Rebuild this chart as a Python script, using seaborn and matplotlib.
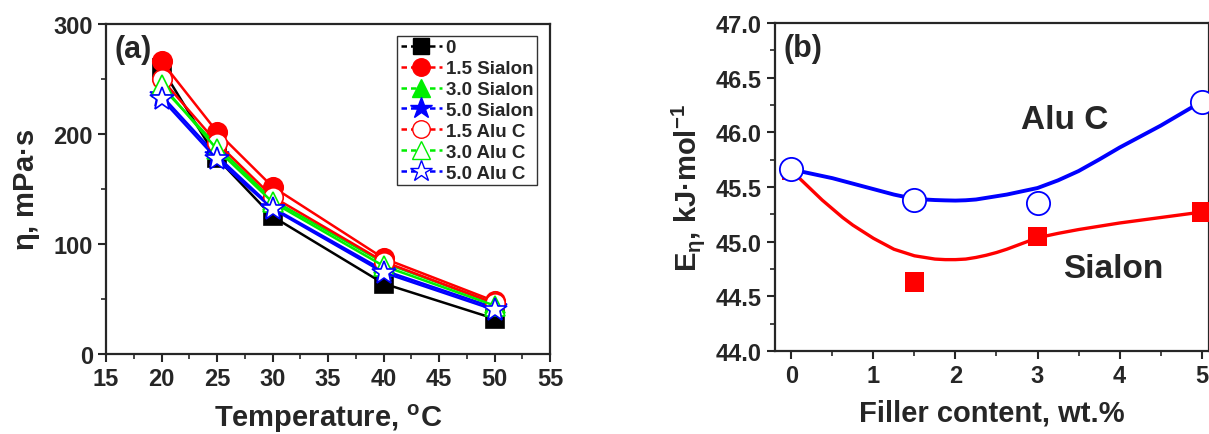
import numpy as np
import pandas as pd
import matplotlib
matplotlib.use("Agg")
import matplotlib.pyplot as plt
import seaborn as sns
from matplotlib.lines import Line2D
from matplotlib.ticker import MultipleLocator, FormatStrFormatter

# ---------- data: panel (a) viscosity vs temperature ----------
temps = [20, 25, 30, 40, 50]
visc_0 = [260, 178, 125, 64, 32]
visc_sialon_15 = [266, 202, 152, 87, 48]
visc_sialon_30 = [243, 189, 140, 83, 46]
visc_sialon_50 = [235, 180, 133, 76, 42]
visc_aluc_15 = [250, 192, 143, 84, 46]
visc_aluc_30 = [245, 186, 138, 80, 44]
visc_aluc_50 = [232, 177, 132, 74, 40]

# ---------- data: panel (b) activation energy vs filler ----------
filler = [0, 1.5, 3, 5]
ea_sialon = [45.65, 44.63, 45.05, 45.27]
ea_aluc = [45.66, 45.38, 45.35, 46.28]
# trend lines
fit_x = [0, 0.125, 0.25, 0.375, 0.5, 0.625, 0.75, 0.875, 1.0, 1.125, 1.25, 1.375, 1.5,
         1.625, 1.75, 1.875, 2.0, 2.125, 2.25, 2.375, 2.5, 2.625, 2.75, 2.875, 3.0,
         3.25, 3.5, 3.75, 4.0, 4.25, 4.5, 4.75, 5.0]
fit_sialon = [45.65, 45.56, 45.47, 45.38, 45.30, 45.22, 45.15, 45.09, 45.03, 44.98, 44.93,
              44.90, 44.87, 44.855, 44.84, 44.835, 44.835, 44.84, 44.855, 44.875, 44.90,
              44.93, 44.965, 45.00, 45.035, 45.075, 45.11, 45.14, 45.17, 45.195, 45.22,
              45.245, 45.27]
fit_aluc = [45.66, 45.64, 45.62, 45.60, 45.58, 45.555, 45.53, 45.505, 45.48, 45.455, 45.43,
            45.41, 45.39, 45.385, 45.38, 45.377, 45.375, 45.378, 45.385, 45.40, 45.415,
            45.43, 45.45, 45.47, 45.49, 45.56, 45.645, 45.75, 45.86, 45.96, 46.06,
            46.17, 46.28]

sns.set_style("ticks")
plt.rcParams["font.family"] = ["Liberation Sans", "DejaVu Sans"]
plt.rcParams["font.weight"] = "bold"
plt.rcParams["mathtext.fontset"] = "custom"
plt.rcParams["mathtext.rm"] = "Liberation Sans"
plt.rcParams["mathtext.it"] = "Liberation Sans"
plt.rcParams["mathtext.bf"] = "Liberation Sans:bold"
plt.rcParams["axes.linewidth"] = 1.6

fig = plt.figure(figsize=(12.09, 4.35), dpi=100)
ax1 = fig.add_axes([0.0877, 0.184, 0.3673, 0.7585])
ax2 = fig.add_axes([0.641, 0.191, 0.359, 0.754])

# ---------- panel (a) ----------
series_a = [
    ("0", visc_0, "black", "s", "black"),
    ("1.5 Sialon", visc_sialon_15, "#ff0000", "o", "#ff0000"),
    ("3.0 Sialon", visc_sialon_30, "#00ee00", "^", "#00ee00"),
    ("5.0 Sialon", visc_sialon_50, "#0000ff", "*", "#0000ff"),
    ("1.5 Alu C", visc_aluc_15, "#ff0000", "o", "white"),
    ("3.0 Alu C", visc_aluc_30, "#00ee00", "^", "white"),
    ("5.0 Alu C", visc_aluc_50, "#0000ff", "*", "white"),
]
sizes = {"s": 13, "o": 14, "^": 14, "*": 18}
handles = []
for label, vals, col, mk, face in series_a:
    df = pd.DataFrame({"T": temps, "v": vals})
    sns.lineplot(data=df, x="T", y="v", ax=ax1, color=col, lw=1.8,
                 marker=mk, markersize=sizes[mk], markerfacecolor=face,
                 markeredgecolor=col, markeredgewidth=1.2)
    handles.append(Line2D([], [], color=col, lw=1.8, ls=(0, (2.2, 1.6)), marker=mk,
                          markersize=sizes[mk] * 0.9, markerfacecolor=face,
                          markeredgecolor=col, markeredgewidth=1.0, label=label))

ax1.set_xlim(15, 55)
ax1.set_ylim(0, 300)
ax1.xaxis.set_major_locator(MultipleLocator(5))
ax1.xaxis.set_minor_locator(MultipleLocator(2.5))
ax1.yaxis.set_major_locator(MultipleLocator(100))
ax1.yaxis.set_minor_locator(MultipleLocator(50))
ax1.set_xlabel(r"Temperature, $^{\mathbf{o}}$C", fontsize=21, fontweight="bold", labelpad=8)
ax1.set_ylabel(r"$\eta$, mPa·s", fontsize=21, fontweight="bold", labelpad=8)
ax1.text(0.02, 0.97, "(a)", transform=ax1.transAxes, fontsize=22, fontweight="bold",
         va="top", ha="left")
leg = ax1.legend(handles=handles, loc="upper right", bbox_to_anchor=(0.97, 0.965),
                 fontsize=13.5, frameon=True, fancybox=False, handlelength=2.2,
                 handletextpad=0.2, labelspacing=0.2, borderpad=0.2, borderaxespad=0)
leg.get_frame().set_edgecolor("black")
leg.get_frame().set_linewidth(1.0)
for t in leg.get_texts():
    t.set_fontweight("bold")

# ---------- panel (b) ----------
sns.lineplot(x=fit_x, y=fit_sialon, ax=ax2, color="#ff0000", lw=2.4)
sns.lineplot(x=fit_x, y=fit_aluc, ax=ax2, color="#0000ff", lw=2.8)
sns.scatterplot(x=filler, y=ea_sialon, ax=ax2, color="#ff0000", marker="s", s=190,
                edgecolor="none", zorder=3)
sns.scatterplot(x=filler, y=ea_aluc, ax=ax2, facecolor="white", edgecolor="#0000ff",
                marker="o", s=280, linewidth=1.3, zorder=4)

ax2.set_xlim(-0.2, 5.09)
ax2.set_ylim(44.0, 47.0)
ax2.xaxis.set_major_locator(MultipleLocator(1))
ax2.xaxis.set_minor_locator(MultipleLocator(0.5))
ax2.yaxis.set_major_locator(MultipleLocator(0.5))
ax2.yaxis.set_minor_locator(MultipleLocator(0.25))
ax2.yaxis.set_major_formatter(FormatStrFormatter("%.1f"))
ax2.set_xlabel("Filler content, wt.%", fontsize=21, fontweight="bold", labelpad=8)
ax2.set_ylabel(r"E$_{\eta}$, kJ·mol$^{-1}$", fontsize=21, fontweight="bold", labelpad=6)
ax2.text(0.02, 0.97, "(b)", transform=ax2.transAxes, fontsize=22, fontweight="bold",
         va="top", ha="left")
ax2.text(3.33, 46.12, "Alu C", fontsize=24, fontweight="bold", ha="center", va="center")
ax2.text(3.92, 44.75, "Sialon", fontsize=24, fontweight="bold", ha="center", va="center")

for ax in (ax1, ax2):
    for sp in ax.spines.values():
        sp.set_visible(True)
        sp.set_linewidth(1.6)
    ax.tick_params(which="major", direction="out", length=6, width=1.5, labelsize=17,
                   top=False, right=False)
    ax.tick_params(which="minor", direction="out", length=3.5, width=1.2,
                   top=False, right=False)
    for lab in ax.get_xticklabels() + ax.get_yticklabels():
        lab.set_fontweight("bold")

fig.savefig("out.png", dpi=100)
